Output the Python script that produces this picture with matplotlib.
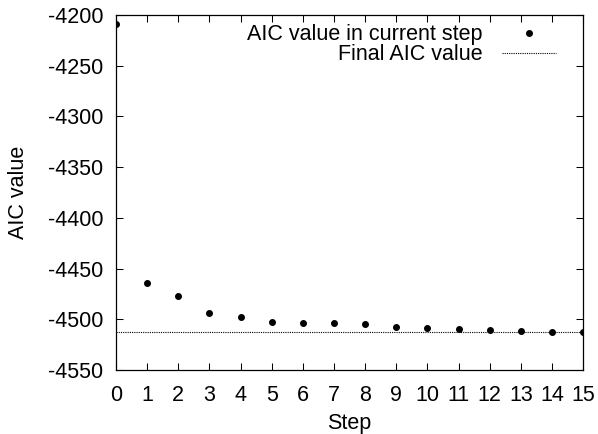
import numpy as np
import matplotlib.pyplot as plt

plt.rcParams['font.family'] = ['Liberation Sans', 'DejaVu Sans']
plt.rcParams['font.size'] = 15.5
plt.rcParams['axes.unicode_minus'] = False

steps = np.arange(16)
aic = [-4209, -4464, -4477, -4494, -4498, -4503, -4503.5, -4504, -4504.5,
       -4508, -4509, -4510, -4511, -4512, -4512.5, -4513]
final_aic = -4513

fig = plt.figure(figsize=(5.98, 4.34), dpi=100)
ax = fig.add_axes([0.194, 0.1475, 0.781, 0.818])

ax.plot(steps, aic, 'o', color='black', markersize=4, label='AIC value in current step')
ax.axhline(final_aic, color='black', linestyle=(0, (1, 1)), linewidth=0.8, label='Final AIC value')

ax.set_xlim(0, 15)
ax.set_ylim(-4550, -4200)
ax.set_xticks(steps)
ax.set_yticks(np.arange(-4550, -4199, 50))
ax.tick_params(axis='x', pad=11)
ax.tick_params(axis='y', pad=9)
ax.tick_params(direction='in', length=5, width=0.75, top=True, right=True)
for s in ax.spines.values():
    s.set_linewidth(0.9)

ax.set_xlabel('Step', labelpad=5)
ax.set_ylabel('AIC value', labelpad=14)

leg = ax.legend(loc='upper right', bbox_to_anchor=(0.978, 1.022), frameon=False,
                markerfirst=False, handlelength=2.5, handletextpad=0.9,
                labelspacing=-0.05, borderpad=0.3, fontsize=15.5)

fig.savefig('out.png', dpi=100)
